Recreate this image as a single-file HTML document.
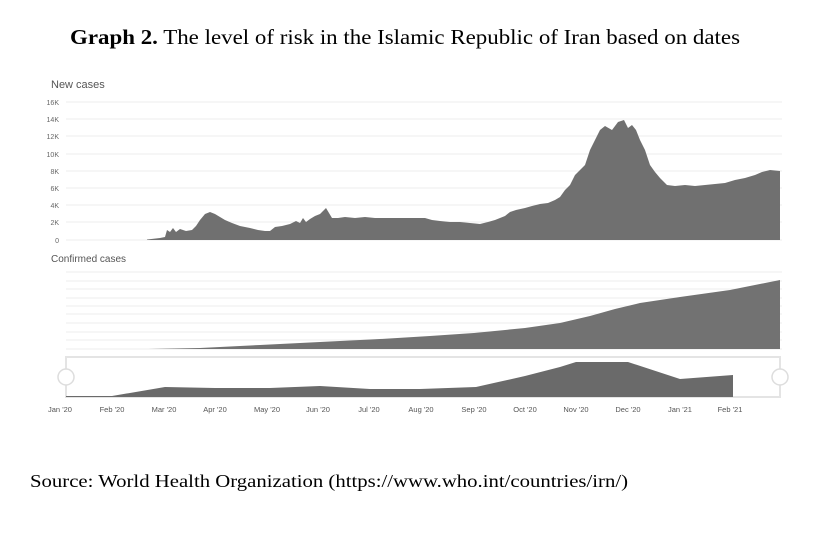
<!DOCTYPE html>
<html><head><style>
body{margin:0;background:#fff;width:830px;height:545px;overflow:hidden;}
</style></head><body>
<svg width="830" height="545" xmlns="http://www.w3.org/2000/svg">
<text x="70" y="44" textLength="670" lengthAdjust="spacingAndGlyphs" font-family="Liberation Serif, serif" font-size="21"><tspan font-weight="bold">Graph 2.</tspan> The level of risk in the Islamic Republic of Iran based on dates</text>
<text x="51" y="88" font-family="Liberation Sans, sans-serif" font-size="11" fill="#555">New cases</text>
<g font-family="Liberation Sans, sans-serif" font-size="7" fill="#666" text-anchor="end">
<text x="59" y="105">16K</text><text x="59" y="122">14K</text><text x="59" y="139">12K</text><text x="59" y="157">10K</text><text x="59" y="174">8K</text><text x="59" y="191">6K</text><text x="59" y="208">4K</text><text x="59" y="225">2K</text><text x="59" y="243">0</text>
</g>
<g stroke="#eee" stroke-width="1">
<line x1="66" x2="782" y1="102" y2="102"/><line x1="66" x2="782" y1="119" y2="119"/><line x1="66" x2="782" y1="136" y2="136"/><line x1="66" x2="782" y1="154" y2="154"/><line x1="66" x2="782" y1="171" y2="171"/><line x1="66" x2="782" y1="188" y2="188"/><line x1="66" x2="782" y1="205" y2="205"/><line x1="66" x2="782" y1="222" y2="222"/><line x1="66" x2="782" y1="240" y2="240"/>
</g>
<path fill="#707070" d="M147,240 L147,239.5 L160,238 L165,237 L167,230 L170,232 L173,228 L176,232 L180,229 L186,231 L192,230 L196,226 L200,220 L205,214 L210,212 L215,214 L220,217 L225,220 L232,223 L240,226 L250,228 L258,230 L265,231 L270,231 L275,227 L282,226 L290,224 L296,221 L300,223 L303,218 L306,222 L310,219 L315,216 L320,214 L323,211 L326,208 L329,213 L332,218 L338,218 L345,217 L355,218 L365,217 L375,218 L385,218 L395,218 L405,218 L415,218 L425,218 L432,220 L440,221 L450,222 L460,222 L470,223 L480,224 L488,222 L495,220 L500,218 L505,216 L510,212 L516,210 L525,208 L532,206 L540,204 L548,203 L555,200 L560,197 L565,190 L570,185 L575,175 L580,170 L585,165 L590,150 L595,140 L600,130 L605,126 L612,130 L618,122 L624,120 L628,128 L632,125 L636,130 L640,140 L645,150 L650,165 L655,172 L660,178 L667,185 L675,186 L685,185 L695,186 L705,185 L715,184 L725,183 L735,180 L745,178 L755,175 L762,172 L770,170 L780,171 L780,240 Z"/>
<text x="51" y="262" font-family="Liberation Sans, sans-serif" font-size="10" fill="#555">Confirmed cases</text>
<g stroke="#eee" stroke-width="1">
<line x1="66" x2="782" y1="272" y2="272"/><line x1="66" x2="782" y1="281" y2="281"/><line x1="66" x2="782" y1="289" y2="289"/><line x1="66" x2="782" y1="298" y2="298"/><line x1="66" x2="782" y1="306" y2="306"/><line x1="66" x2="782" y1="314" y2="314"/><line x1="66" x2="782" y1="323" y2="323"/><line x1="66" x2="782" y1="332" y2="332"/><line x1="66" x2="782" y1="340" y2="340"/><line x1="66" x2="782" y1="349" y2="349"/>
</g>
<path fill="#727272" d="M148,349 L200,348 L260,345 L320,342 L380,339 L430,336 L474,333 L525,328 L560,323 L590,316 L615,309 L640,303 L680,297 L730,290 L780,280 L780,349 Z"/>
<rect x="66" y="357" width="714" height="40" fill="none" stroke="#e4e4e4" stroke-width="2"/>
<path fill="#6a6a6a" d="M66,396 L112,396 L165,387 L215,388 L270,388 L320,386 L370,389 L420,389 L476,387 L525,376 L560,367 L576,362 L628,362 L680,379 L733,375 L733,397 L66,397 Z"/>
<circle cx="66" cy="377" r="8" fill="#fff" stroke="#ddd" stroke-width="1.5"/>
<circle cx="780" cy="377" r="8" fill="#fff" stroke="#ddd" stroke-width="1.5"/>
<g font-family="Liberation Sans, sans-serif" font-size="7.5" fill="#555" text-anchor="middle">
<text x="60" y="412">Jan '20</text><text x="112" y="412">Feb '20</text><text x="164" y="412">Mar '20</text><text x="215" y="412">Apr '20</text><text x="267" y="412">May '20</text><text x="318" y="412">Jun '20</text><text x="369" y="412">Jul '20</text><text x="421" y="412">Aug '20</text><text x="474" y="412">Sep '20</text><text x="525" y="412">Oct '20</text><text x="576" y="412">Nov '20</text><text x="628" y="412">Dec '20</text><text x="680" y="412">Jan '21</text><text x="730" y="412">Feb '21</text>
</g>
<text x="30" y="487" textLength="598" lengthAdjust="spacingAndGlyphs" font-family="Liberation Serif, serif" font-size="18">Source: World Health Organization (https://www.who.int/countries/irn/)</text>
</svg>
</body></html>
